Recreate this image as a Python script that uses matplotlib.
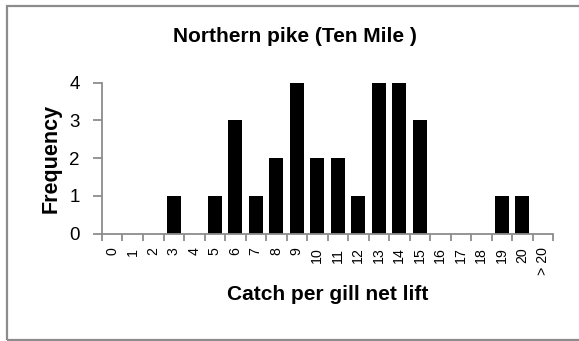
import matplotlib.pyplot as plt
import numpy as np
from matplotlib.patches import Rectangle

plt.rcParams['font.family'] = ['Liberation Sans', 'DejaVu Sans']

# catch per gill net lift bins and their counts
categories = [str(i) for i in range(21)] + ['> 20']
frequency = [0, 0, 0, 1, 0, 1, 3, 1, 2, 4, 2, 2, 1, 4, 4, 3, 0, 0, 0, 1, 1, 0]

axis_grey = '#8c8c8c'
W, H = 579, 341

fig = plt.figure(figsize=(W / 100, H / 100), dpi=100)
ax = fig.add_axes([102 / W, 1 - 233.7 / H, 451 / W, 151 / H])

x = np.arange(len(categories))
ax.bar(x, frequency, width=0.68, color='black')

ax.set_xlim(-0.5, len(categories) - 0.5)
ax.set_ylim(0, 4)
ax.set_yticks([0, 1, 2, 3, 4])
ax.tick_params(axis='y', labelsize=13.5, length=6.5, color=axis_grey, width=1.3, pad=9.5)

ax.set_xticks(x)
ax.set_xticklabels(categories, rotation=90, fontsize=10.2)
ax.tick_params(axis='x', which='major', length=0, pad=10)
ax.set_xticks(np.arange(len(categories) + 1) - 0.5, minor=True)
ax.tick_params(axis='x', which='minor', length=5, color=axis_grey, width=1.3)

for side in ['top', 'right']:
    ax.spines[side].set_visible(False)
for side in ['left', 'bottom']:
    ax.spines[side].set_color(axis_grey)
    ax.spines[side].set_linewidth(1.3)

fig.text(294.5 / W, 1 - 37 / H, 'Northern pike (Ten Mile )', fontsize=15,
         fontweight='bold', ha='center', va='center')
ax.set_ylabel('Frequency', fontsize=15.5, fontweight='bold', va='center', ha='center')
ax.yaxis.set_label_coords((51 - 102) / 451, 0.5)
ax.set_xlabel('Catch per gill net lift', fontsize=15, fontweight='bold', va='center', ha='center')
ax.xaxis.set_label_coords(0.5, (233.7 - 295) / 151)

# outer border around the chart area (right edge runs off the image)
fig.patches.append(Rectangle((6.5 / W, 1 - 339.5 / H), 1.0, 334 / H,
                             transform=fig.transFigure, fill=False,
                             edgecolor=axis_grey, linewidth=1.6))

fig.savefig('out.png', dpi=100)
